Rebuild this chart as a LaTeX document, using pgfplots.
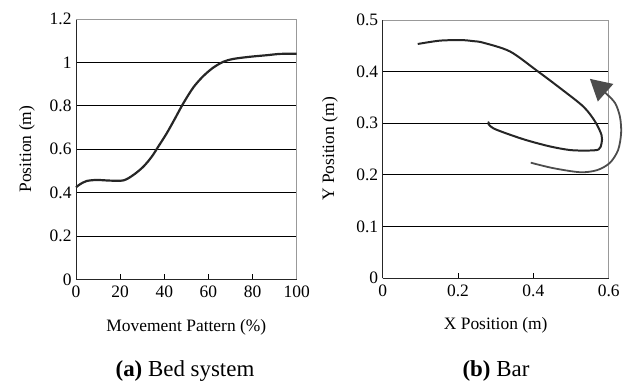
\documentclass[border=0pt]{standalone}
\usepackage{fontspec}
\setmainfont{Liberation Serif}
\usepackage{pgfplots}
\pgfplotsset{compat=1.18}
\usetikzlibrary{arrows.meta}
\begin{document}
\begin{tikzpicture}
\useasboundingbox (0bp,0bp) rectangle (628bp,384bp);
\pgfplotsset{
  common/.style={
    scale only axis,
    axis x line*=bottom,
    axis y line*=left,
    axis line style={black!85, line width=0.8pt, -},
    tick align=inside,
    major tick length=5bp,
    tick style={black, line width=0.7pt},
    ymajorgrids,
    major grid style={black, line width=0.6pt},
    /pgf/number format/assume math mode=true,
    tick label style={font=\fontsize{17.5}{20}\selectfont},
    xticklabel style={yshift=-3bp},
    yticklabel style={xshift=-1bp},
    label style={font=\fontsize{17.5}{20}\selectfont},
    clip=false,
  }
}
% ---------- (a) ----------
\begin{axis}[common,
  at={(76bp,104.7bp)}, anchor=south west,
  width=220.7bp, height=260.3bp,
  xmin=0, xmax=100, ymin=0, ymax=1.2,
  xtick={0,20,40,60,80,100},
  ytick={0,0.2,0.4,0.6,0.8,1,1.2},
  yticklabels={0,0.2,0.4,0.6,0.8,1,1.2},
  xlabel={Movement Pattern (\%)},
  ylabel={Position (m)},
  xlabel style={at={(axis description cs:0.5,-0.185)}, anchor=center},
  ylabel style={at={(axis description cs:-0.222,0.5)}, anchor=center, rotate=0},
]
\draw[black!40, line width=0.7pt] (rel axis cs:0,1) -- (rel axis cs:1,1) -- (rel axis cs:1,0);
\addplot[black!85, line width=2.2pt, smooth] coordinates {
(0,0.424) (1.8,0.438) (4.8,0.453) (9.4,0.458) (15.4,0.455) (21.5,0.456)
(26,0.481) (30.5,0.519) (34.3,0.565) (37.3,0.612) (41.1,0.673) (44.9,0.742)
(48.6,0.811) (53.2,0.885) (57.7,0.937) (62.2,0.976) (66.8,1.003) (71.3,1.016)
(78.9,1.026) (86.4,1.033) (92.4,1.039) (100,1.040)
};
\end{axis}
% ---------- (b) ----------
\begin{axis}[common,
  at={(382.7bp,106bp)}, anchor=south west,
  width=226bp, height=258bp,
  xmin=0, xmax=0.6, ymin=0, ymax=0.5,
  xtick={0,0.2,0.4,0.6},
  ytick={0,0.1,0.2,0.3,0.4,0.5},
  xticklabels={0,0.2,0.4,0.6},
  yticklabels={0,0.1,0.2,0.3,0.4,0.5},
  xlabel={X Position (m)},
  ylabel={Y Position (m)},
  xlabel style={at={(axis description cs:0.5,-0.182)}, anchor=center},
  ylabel style={at={(axis description cs:-0.233,0.5)}, anchor=center, rotate=0},
]
\draw[black!40, line width=0.7pt] (rel axis cs:0,1) -- (rel axis cs:1,1) -- (rel axis cs:1,0);
\addplot[black!85, line width=2pt, smooth] coordinates {
(0.093,0.4535) (0.152,0.460) (0.210,0.461) (0.241,0.459) (0.267,0.456)
(0.338,0.439) (0.409,0.402) (0.471,0.368) (0.533,0.332) (0.564,0.303)
(0.581,0.277) (0.581,0.261) (0.573,0.249) (0.542,0.247) (0.497,0.248)
(0.444,0.255) (0.382,0.267) (0.329,0.280) (0.294,0.290) (0.281,0.298) (0.282,0.303)
};
\addplot[black!70, line width=1.8pt, smooth, -{Triangle[length=21bp,width=23bp]}] coordinates {
(0.393,0.2235) (0.452,0.213) (0.524,0.205) (0.569,0.209) (0.603,0.223)
(0.625,0.248) (0.633,0.281) (0.630,0.312) (0.617,0.339) (0.591,0.359) (0.550,0.386)
};
\end{axis}
\node[font=\fontsize{23}{26}\selectfont, anchor=base] at (185bp,7.3bp) {\textbf{(a)} Bed system};
\node[font=\fontsize{23}{26}\selectfont, anchor=base] at (496bp,7.3bp) {\textbf{(b)} Bar};
\end{tikzpicture}
\end{document}
